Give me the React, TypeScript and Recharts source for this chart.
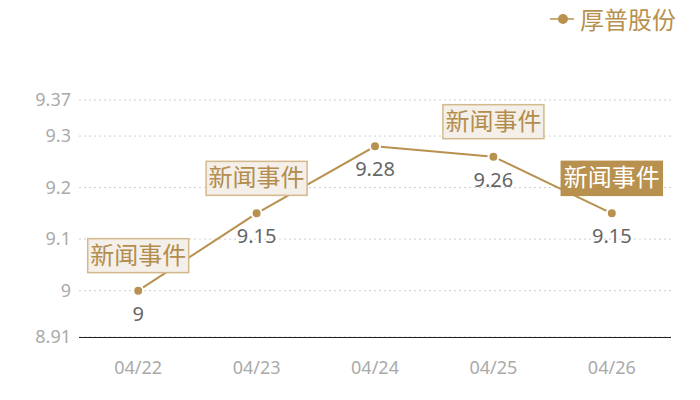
import { LineChart, Line, XAxis, YAxis, CartesianGrid, LabelList } from 'recharts'

const dates = ['04/22', '04/23', '04/24', '04/25', '04/26']
const prices = [9, 9.15, 9.28, 9.26, 9.15]
// 'light' = pale box, 'dark' = filled box, '' = no event
const events = ['light', 'light', '', 'light', 'dark']
const yTicks = [8.91, 9, 9.1, 9.2, 9.3, 9.37]

const seriesName = '厚普股份'
const eventText = '新闻事件'

const GOLD = '#b8914f'
const FONT = '"Noto Sans", "Noto Sans CJK SC", sans-serif'
const CJK = '"Noto Sans CJK SC", sans-serif'

const data = dates.map((d, i) => ({ date: d, price: prices[i], event: events[i] }))

function ValueLabel(props: any) {
  const { x, y, value } = props
  return (
    <text x={x} y={y + 30} textAnchor="middle" fontSize={20} fill="#666" fontFamily={FONT}>
      {value}
    </text>
  )
}

function EventBox(props: any) {
  const { x, y, value } = props
  if (!value) return null
  const w = 101
  const h = 34
  const top = y - 18 - h
  const dark = value === 'dark'
  return (
    <g>
      <rect
        x={x - w / 2}
        y={top}
        width={w}
        height={h}
        fill={dark ? GOLD : '#f4efe8'}
        stroke={dark ? GOLD : '#d3b98c'}
        strokeWidth={1.5}
      />
      <text
        x={x}
        y={top + h / 2 + 8}
        textAnchor="middle"
        fontSize={24}
        fill={dark ? '#fff' : '#b38d4e'}
        fontFamily={CJK}
      >
        {eventText}
      </text>
    </g>
  )
}

export default function App() {
  return (
    <div style={{ position: 'absolute', left: 0, top: 0, width: 700, height: 400, background: '#fff' }}>
      <div
        style={{
          position: 'absolute',
          top: 2,
          right: 24,
          display: 'flex',
          alignItems: 'center',
          zIndex: 2,
        }}
      >
        <svg width={24} height={14} style={{ marginRight: 6 }}>
          <line x1={0} y1={7} x2={24} y2={7} stroke={GOLD} strokeWidth={1.5} />
          <circle cx={13} cy={7} r={5} fill={GOLD} />
        </svg>
        <span style={{ color: GOLD, fontSize: 24, lineHeight: '34px', fontFamily: CJK }}>{seriesName}</span>
      </div>
      <LineChart width={700} height={400} data={data} margin={{ top: 100, right: 29, bottom: 23, left: 0 }}>
        <CartesianGrid vertical={false} stroke="#cfcfcf" strokeDasharray="2 3" />
        <XAxis
          dataKey="date"
          scale="band"
          height={40}
          axisLine={{ stroke: '#222', shapeRendering: 'crispEdges' }}
          tickLine={false}
          tickSize={0}
          tickMargin={24}
          tick={{ fill: '#aaa', fontSize: 18, fontFamily: FONT }}
        />
        <YAxis
          type="number"
          domain={[8.91, 9.37]}
          ticks={yTicks}
          interval={0}
          width={79}
          axisLine={false}
          tickLine={false}
          tickSize={0}
          tickMargin={8}
          tick={{ fill: '#aaa', fontSize: 18, fontFamily: FONT }}
        />
        <Line
          type="linear"
          dataKey="price"
          name={seriesName}
          stroke={GOLD}
          strokeWidth={2}
          dot={{ r: 5, fill: GOLD, stroke: '#fff', strokeWidth: 2 }}
          activeDot={false}
          isAnimationActive={false}
        >
          <LabelList dataKey="price" content={<ValueLabel />} />
          <LabelList dataKey="event" content={<EventBox />} />
        </Line>
      </LineChart>
    </div>
  )
}
